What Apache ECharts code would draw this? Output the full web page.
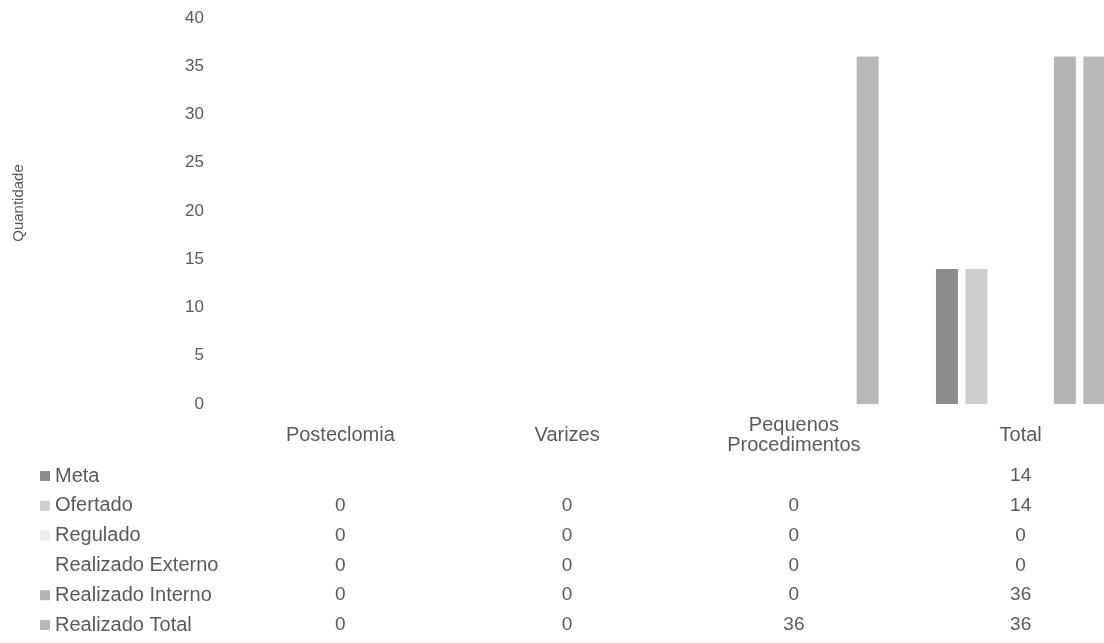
<!DOCTYPE html>
<html>
<head>
<meta charset="utf-8">
<script src="https://cdn.jsdelivr.net/npm/echarts@6/dist/echarts.min.js"></script>
<style>
  html, body { margin: 0; padding: 0; background: #fff; }
  #chart { width: 1104px; height: 643px; }
</style>
</head>
<body>
<div id="chart"></div>
<script>
// categorias e valores
var categorias = ['Posteclomia', 'Varizes', 'Pequenos\nProcedimentos', 'Total'];
var nomesSeries = ['Meta', 'Ofertado', 'Regulado', 'Realizado Externo', 'Realizado Interno', 'Realizado Total'];
var meta = [null, null, null, 14];
var ofertado = [0, 0, 0, 14];
var regulado = [0, 0, 0, 0];
var realizadoExterno = [0, 0, 0, 0];
var realizadoInterno = [0, 0, 0, 36];
var realizadoTotal = [0, 0, 36, 36];
var yTicks = [0, 5, 10, 15, 20, 25, 30, 35, 40];

var valores = [meta, ofertado, regulado, realizadoExterno, realizadoInterno, realizadoTotal];
var cores = ['#8c8c8c', '#cfcfcf', '#ececec', '#ffffff', '#b4b4b4', '#b8b8b8'];

var fonte = 'Liberation Sans, Arial, sans-serif';
var corTexto = '#5a5a5a';

var myChart = echarts.init(document.getElementById('chart'));

// eixo principal + um eixo extra por serie para montar a tabela de dados
var xAxes = [{
    type: 'category',
    data: categorias,
    axisLine: { show: false },
    axisTick: { show: false },
    axisLabel: {
        interval: 0,
        margin: 31,
        verticalAlign: 'middle',
        color: corTexto,
        fontFamily: fonte,
        fontSize: 20,
        lineHeight: 20
    }
}];
valores.forEach(function (arr, i) {
    xAxes.push({
        type: 'category',
        data: categorias,
        position: 'bottom',
        offset: 72 + i * 29.8,
        axisLine: { show: false },
        axisTick: { show: false },
        axisLabel: {
            interval: 0,
            margin: 0,
            verticalAlign: 'middle',
            color: corTexto,
            fontFamily: fonte,
            fontSize: 19,
            formatter: function (v, idx) {
                return arr[idx] == null ? '' : String(arr[idx]);
            }
        }
    });
});

var option = {
    animation: false,
    grid: { left: 227, top: 18, width: 907, bottom: 239, outerBoundsMode: 'none', containLabel: false },
    legend: {
        orient: 'vertical',
        left: 40,
        top: 466,
        padding: 0,
        itemWidth: 10,
        itemHeight: 10,
        itemGap: 9.8,
        icon: 'rect',
        data: nomesSeries,
        textStyle: { color: corTexto, fontFamily: fonte, fontSize: 20, lineHeight: 20 }
    },
    xAxis: xAxes,
    yAxis: {
        type: 'value',
        min: yTicks[0],
        max: yTicks[yTicks.length - 1],
        interval: 5,
        name: 'Quantidade',
        nameLocation: 'middle',
        nameRotate: 90,
        nameGap: 201,
        nameTextStyle: { color: corTexto, fontFamily: fonte, fontSize: 15, padding: [0, 0, 0, 16] },
        axisLine: { show: false },
        axisTick: { show: false },
        splitLine: { show: false },
        axisLabel: { margin: 23, color: corTexto, fontFamily: fonte, fontSize: 17 }
    },
    series: nomesSeries.map(function (nome, i) {
        return {
            name: nome,
            type: 'bar',
            data: valores[i],
            barWidth: 22,
            barGap: '34%',
            itemStyle: { color: cores[i] }
        };
    })
};
myChart.setOption(option);
</script>
</body>
</html>
